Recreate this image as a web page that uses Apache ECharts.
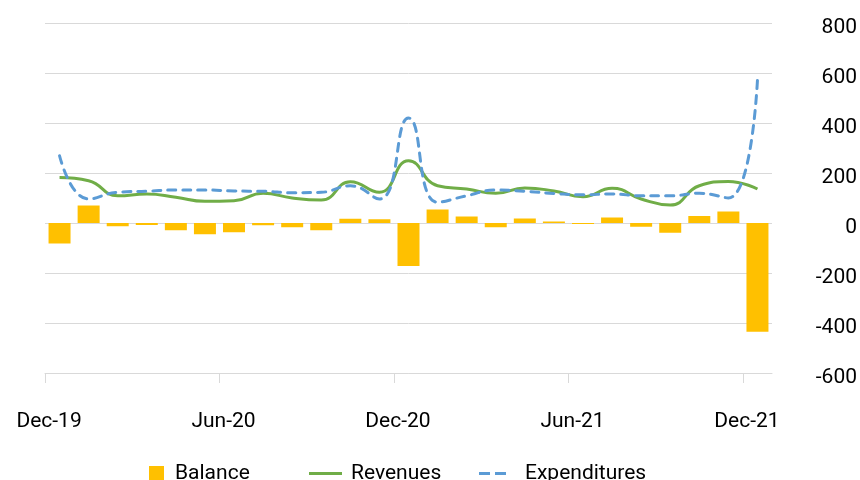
<!DOCTYPE html>
<html>
<head>
<meta charset="utf-8">
<script src="https://cdn.jsdelivr.net/npm/echarts@6/dist/echarts.min.js"></script>
<style>html,body{margin:0;padding:0;background:#fff;}#c{width:860px;height:480px;}</style>
</head>
<body>
<div id="c"></div>
<script>
const months = ['Dec-19','Jan-20','Feb-20','Mar-20','Apr-20','May-20','Jun-20','Jul-20','Aug-20','Sep-20','Oct-20','Nov-20',
  'Dec-20','Jan-21','Feb-21','Mar-21','Apr-21','May-21','Jun-21','Jul-21','Aug-21','Sep-21','Oct-21','Nov-21','Dec-21'];
const balance = [-82, 70, -13, -8, -29, -45, -37, -9, -17, -29, 17, 15, -172, 54, 26, -17, 18, 6, -4, 22, -15, -39, 28, 46, -435];
const revenues = [182, 169, 109, 116, 103, 87, 89, 119, 100, 92, 165, 123, 249, 149, 136, 119, 140, 128, 105, 139, 96, 72, 149, 166, 136];
const expenditures = [269, 96, 123, 127, 132, 132, 128, 127, 121, 123, 149, 96, 420, 83, 109, 132, 127, 118, 113, 116, 109, 109, 119, 100, 572];
const yTicks = {min: -600, max: 800, step: 200};
const labelEvery = 6;

const chart = echarts.init(document.getElementById('c'), null, {renderer: 'canvas'});
const font = 'Roboto';
const legendText = {fontFamily: font, fontSize: 21, color: '#000'};
const tickBoundaries = [];
for (let i = 0; i < months.length; i += labelEvery) tickBoundaries.push(i - 0.5);

chart.setOption({
  animation: false,
  textStyle: {fontFamily: font},
  grid: {left: 45, right: 86, top: 23, bottom: 107},
  legend: [
    {data: [{name: 'Balance', icon: 'rect'}], left: 149, top: 463, padding: 0, itemWidth: 15, itemHeight: 15,
     textStyle: Object.assign({padding: [0, 0, 0, 6]}, legendText)},
    {data: [{name: 'Revenues', icon: 'path://M0,0H33V3H0Z'}], left: 309, top: 463, padding: 0, itemWidth: 33, itemHeight: 3,
     textStyle: Object.assign({padding: [0, 0, 0, 4]}, legendText)},
    {data: [{name: 'Expenditures', icon: 'path://M0,0H11V3H0Z M16,0H27V3H16Z'}], left: 479, top: 463, padding: 0, itemWidth: 27, itemHeight: 3,
     textStyle: Object.assign({padding: [0, 0, 0, 14]}, legendText)}
  ],
  xAxis: [{
    type: 'category', data: months, boundaryGap: true,
    axisLine: {show: true, onZero: false, lineStyle: {color: '#D9D9D9', width: 1}},
    axisTick: {show: false},
    axisLabel: {interval: function (i) { return i % labelEvery === 0; }, margin: 38, fontSize: 21, color: '#000',
      fontFamily: font, padding: [0, 21, 0, 0]},
    splitLine: {show: false}
  }, {
    type: 'value', position: 'bottom', min: -0.5, max: months.length - 0.5,
    axisLine: {show: false, onZero: false},
    axisTick: {show: true, length: 10, lineStyle: {color: '#D9D9D9'}, customValues: tickBoundaries},
    axisLabel: {show: false},
    splitLine: {show: false}
  }],
  yAxis: {
    type: 'value', position: 'right', min: yTicks.min, max: yTicks.max, interval: yTicks.step,
    axisLine: {show: false}, axisTick: {show: false},
    axisLabel: {align: 'right', margin: 85, color: '#000',
      formatter: function (v) { return '{a|' + v + '}'; },
      rich: {a: {fontSize: 21, fontFamily: font, color: '#000', padding: [10, 0, 0, 0]}}},
    splitLine: {lineStyle: {color: '#D9D9D9', width: 1}}
  },
  series: [
    {name: 'Balance', type: 'bar', data: balance, barWidth: 22, itemStyle: {color: '#FFC000'}},
    {name: 'Revenues', type: 'line', data: revenues, smooth: 0.5, symbol: 'none',
     lineStyle: {color: '#70AD47', width: 3}, itemStyle: {color: '#70AD47'}},
    {name: 'Expenditures', type: 'line', data: expenditures, smooth: 0.5, symbol: 'none',
     lineStyle: {color: '#5B9BD5', width: 3, type: [8, 7], cap: 'round'}, itemStyle: {color: '#5B9BD5'}}
  ]
});
</script>
</body>
</html>
